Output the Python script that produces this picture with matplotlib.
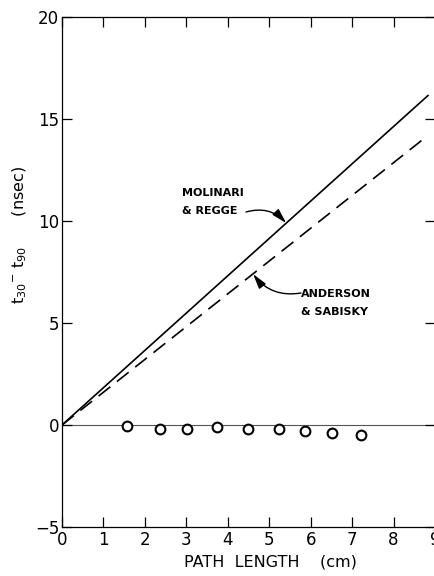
import matplotlib
matplotlib.use("Agg")
import matplotlib.pyplot as plt
import numpy as np

# theory lines (start, end)
molinari_x = [0.0, 8.83]
molinari_y = [0.0, 16.15]
anderson_x = [0.0, 8.71]
anderson_y = [0.0, 14.0]

# measured points
path_cm = [1.56, 2.37, 3.02, 3.75, 4.50, 5.24, 5.87, 6.51, 7.21]
dt_ns = [-0.03, -0.20, -0.20, -0.10, -0.22, -0.20, -0.28, -0.40, -0.50]

xticks = list(range(0, 10))
yticks = [-5, 0, 5, 10, 15, 20]

W, H = 435, 576
fig = plt.figure(figsize=(W / 100, H / 100), dpi=100)
ax = fig.add_axes([62 / W, 1 - 527 / H, (435 - 62) / W, (527 - 17) / H])

ax.plot(molinari_x, molinari_y, color="black", lw=1.2)
dash, = ax.plot(anderson_x, anderson_y, color="black", lw=1.2)
dash.set_dashes((9, 5))
ax.axhline(0, color="#555555", lw=0.8, zorder=1)
ax.plot(path_cm, dt_ns, "o", ms=7, mfc="white", mec="black", mew=1.5, zorder=3)

ax.set_xlim(0, 9)
ax.set_ylim(-5, 20)
ax.set_xticks(xticks)
ax.set_yticks(yticks)
ax.tick_params(direction="in", length=7, width=0.9, top=True, right=True,
               labelsize=12, pad=3)
ax.tick_params(axis="y", pad=2)
for s in ax.spines.values():
    s.set_linewidth(0.9)

fig.text(20 / W, 1 - 235 / H, r"t$_{30}$$^{-}$ t$_{90}$      (nsec)",
         rotation=90, ha="center", va="center", fontsize=11.5)
fig.text(270 / W, 1 - 562 / H, "PATH  LENGTH    (cm)",
         ha="center", va="center", fontsize=11.5)

lab = dict(fontsize=8, fontweight="bold", ha="left", va="center",
           linespacing=1.9)
arrow = dict(arrowstyle="-|>,head_length=0.9,head_width=0.25", color="black",
             lw=1.0, shrinkA=0, shrinkB=0)
ax.annotate("MOLINARI\n& REGGE", xy=(5.41, 9.9), xytext=(182 / W, 1 - 202 / H),
            textcoords="figure fraction", **lab)
ax.annotate("", xy=(5.41, 9.9), xytext=(246 / W, 1 - 212 / H),
            textcoords="figure fraction",
            arrowprops=dict(connectionstyle="arc3,rad=-0.3", **arrow))
ax.annotate("ANDERSON\n& SABISKY", xy=(4.61, 7.4), xytext=(301 / W, 1 - 303 / H),
            textcoords="figure fraction", **lab)
ax.annotate("", xy=(4.61, 7.4), xytext=(301 / W, 1 - 293 / H),
            textcoords="figure fraction",
            arrowprops=dict(connectionstyle="arc3,rad=-0.3", **arrow))

fig.savefig("out.png", dpi=100)
